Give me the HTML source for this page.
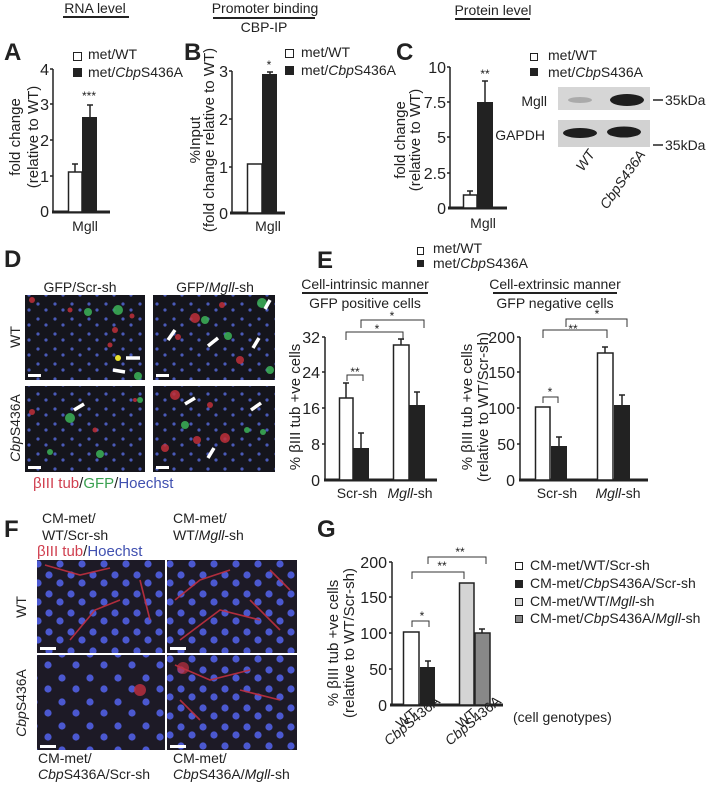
<!DOCTYPE html>
<html><head><meta charset="utf-8"><style>
html,body{margin:0;padding:0;background:#fff}
svg{display:block}
text{font-family:"Liberation Sans",Arial,sans-serif;fill:#222}
.t{font-size:14px}.k{font-size:16px}.p{font-size:24px;font-weight:bold}
.i{font-style:italic}
</style></head><body>
<svg width="707" height="785" viewBox="0 0 707 785" xmlns="http://www.w3.org/2000/svg">
<defs>
<pattern id="nd" width="17" height="15" patternUnits="userSpaceOnUse">
<rect width="17" height="15" fill="#15151c"/>
<circle cx="4" cy="4" r="1.6" fill="#4a5ab8"/><circle cx="12" cy="10" r="1.6" fill="#4a5ab8"/>
</pattern>
<pattern id="nf" width="22" height="19" patternUnits="userSpaceOnUse">
<rect width="22" height="19" fill="#1d1a26"/>
<circle cx="5" cy="5" r="3.6" fill="#4b58d0"/><circle cx="16" cy="13" r="3.6" fill="#4b58d0"/>
</pattern>
<pattern id="ns" width="28" height="24" patternUnits="userSpaceOnUse">
<rect width="28" height="24" fill="#1d1a26"/>
<circle cx="6" cy="6" r="3.6" fill="#4b58d0"/><circle cx="20" cy="17" r="3.6" fill="#4b58d0"/>
</pattern>
</defs>

<!-- top headers -->
<text class="t" x="95" y="13" text-anchor="middle">RNA level</text>
<line x1="63" y1="17" x2="129" y2="17" stroke="#222" stroke-width="2"/>
<text class="t" x="265" y="13" text-anchor="middle">Promoter binding</text>
<line x1="213" y1="18" x2="315" y2="18" stroke="#222" stroke-width="2"/>
<text class="t" x="264" y="32" text-anchor="middle">CBP-IP</text>
<text class="t" x="493" y="15" text-anchor="middle">Protein level</text>
<line x1="455" y1="19" x2="530" y2="19" stroke="#222" stroke-width="2"/>

<!-- Panel A -->
<text class="p" x="4" y="60">A</text>
<rect x="73.5" y="52.5" width="8" height="8" fill="#fff" stroke="#222"/>
<rect x="73" y="68" width="9" height="9" fill="#222"/>
<text class="t" x="88" y="59">met/WT</text>
<text class="t" x="88" y="77">met/<tspan class="i">Cbp</tspan>S436A</text>
<g stroke="#222" stroke-width="1.5">
<line x1="53" y1="69" x2="53" y2="212"/>
<line x1="50" y1="69" x2="53" y2="69"/><line x1="50" y1="104" x2="53" y2="104"/><line x1="50" y1="140" x2="53" y2="140"/><line x1="50" y1="176" x2="53" y2="176"/>
</g>
<line x1="52" y1="212" x2="110" y2="212" stroke="#222" stroke-width="3"/>
<g class="k" text-anchor="end"><text x="49" y="75">4</text><text x="49" y="110">3</text><text x="49" y="146">2</text><text x="49" y="182">1</text><text x="49" y="217">0</text></g>
<g stroke="#222" stroke-width="1.5"><line x1="75" y1="164" x2="75" y2="172"/><line x1="72" y1="164" x2="78" y2="164"/><line x1="90" y1="105" x2="90" y2="117"/><line x1="87" y1="105" x2="93" y2="105"/></g>
<rect x="68.5" y="172" width="13.5" height="40" fill="#fff" stroke="#222" stroke-width="1.5"/>
<rect x="82" y="117" width="15" height="95" fill="#222"/>
<text x="89" y="100" text-anchor="middle" font-size="12" fill="#666">***</text>
<text class="t" x="85" y="231" text-anchor="middle">Mgll</text>
<text font-size="15" transform="translate(20,137) rotate(-90)" text-anchor="middle">fold change</text>
<text font-size="15" transform="translate(38,137) rotate(-90)" text-anchor="middle">(relative to WT)</text>

<!-- Panel B -->
<text class="p" x="184" y="60">B</text>
<rect x="285.5" y="49.5" width="8" height="8" fill="#fff" stroke="#222"/>
<rect x="285" y="66" width="9" height="9" fill="#222"/>
<text class="t" x="301" y="57">met/WT</text>
<text class="t" x="301" y="75">met/<tspan class="i">Cbp</tspan>S436A</text>
<g stroke="#222" stroke-width="1.5">
<line x1="232" y1="71" x2="232" y2="213"/>
<line x1="229" y1="71" x2="232" y2="71"/><line x1="229" y1="119" x2="232" y2="119"/><line x1="229" y1="167" x2="232" y2="167"/>
</g>
<line x1="230" y1="213" x2="285" y2="213" stroke="#222" stroke-width="3"/>
<g class="k" text-anchor="end"><text x="228" y="77">3</text><text x="228" y="125">2</text><text x="228" y="173">1</text><text x="228" y="219">0</text></g>
<g stroke="#222" stroke-width="1.5"><line x1="270" y1="72" x2="270" y2="74"/><line x1="267" y1="72" x2="273" y2="72"/></g>
<rect x="247.5" y="164" width="14.5" height="49" fill="#fff" stroke="#222" stroke-width="1.5"/>
<rect x="262" y="74" width="15" height="139" fill="#222"/>
<text x="269" y="69" text-anchor="middle" font-size="12" fill="#666">*</text>
<text class="t" x="268" y="231" text-anchor="middle">Mgll</text>
<text font-size="15" transform="translate(200,140) rotate(-90)" text-anchor="middle">%Input</text>
<text font-size="15" transform="translate(214,140) rotate(-90)" text-anchor="middle">(fold change relative to WT)</text>

<!-- Panel C -->
<text class="p" x="396" y="60">C</text>
<g stroke="#222" stroke-width="1.5">
<line x1="450" y1="67" x2="450" y2="208"/>
<line x1="447" y1="67" x2="450" y2="67"/><line x1="447" y1="102" x2="450" y2="102"/><line x1="447" y1="137" x2="450" y2="137"/><line x1="447" y1="173" x2="450" y2="173"/>
</g>
<line x1="448" y1="208" x2="507" y2="208" stroke="#222" stroke-width="3"/>
<g class="k" text-anchor="end"><text x="446" y="73">10</text><text x="446" y="108">7.5</text><text x="446" y="143">5</text><text x="446" y="179">2.5</text><text x="446" y="214">0</text></g>
<g stroke="#222" stroke-width="1.5"><line x1="470" y1="191" x2="470" y2="195"/><line x1="467" y1="191" x2="473" y2="191"/><line x1="485" y1="81" x2="485" y2="102"/><line x1="482" y1="81" x2="488" y2="81"/></g>
<rect x="463.5" y="195" width="13.5" height="13" fill="#fff" stroke="#222" stroke-width="1.5"/>
<rect x="477" y="102" width="16" height="106" fill="#222"/>
<text x="485" y="78" text-anchor="middle" font-size="12" fill="#666">**</text>
<text class="t" x="483" y="228" text-anchor="middle">Mgll</text>
<text font-size="15" transform="translate(405,140) rotate(-90)" text-anchor="middle">fold change</text>
<text font-size="15" transform="translate(420,140) rotate(-90)" text-anchor="middle">(relative to WT)</text>
<rect x="530.5" y="53.5" width="7" height="7" fill="#fff" stroke="#222"/>
<rect x="530" y="68" width="8" height="8" fill="#222"/>
<text class="t" x="548" y="60">met/WT</text>
<text class="t" x="548" y="77">met/<tspan class="i">Cbp</tspan>S436A</text>
<!-- blot -->
<rect x="558" y="87" width="92" height="23" fill="#d6d6d6"/>
<rect x="558" y="120" width="92" height="27" fill="#d2d2d2"/>
<ellipse cx="580" cy="100" rx="12" ry="3" fill="#aaa"/>
<ellipse cx="627" cy="100" rx="17" ry="6" fill="#1e1e1e"/>
<ellipse cx="580" cy="133" rx="17" ry="5" fill="#1e1e1e"/>
<ellipse cx="624" cy="132" rx="17" ry="5.5" fill="#1e1e1e"/>
<text class="t" x="547" y="106" text-anchor="end">Mgll</text>
<text class="t" x="545" y="140" text-anchor="end">GAPDH</text>
<line x1="653" y1="100" x2="663" y2="100" stroke="#222" stroke-width="1.5"/>
<text class="t" x="665" y="105">35kDa</text>
<line x1="653" y1="145" x2="663" y2="145" stroke="#222" stroke-width="1.5"/>
<text class="t" x="665" y="150">35kDa</text>
<text class="t i" transform="translate(583,172) rotate(-55)">WT</text>
<text class="t i" transform="translate(607,210) rotate(-55)">CbpS436A</text>

<!-- Panel D -->
<text class="p" x="4" y="267">D</text>
<text class="t" x="80" y="292" text-anchor="middle">GFP/Scr-sh</text>
<text class="t" x="215" y="292" text-anchor="middle">GFP/<tspan class="i">Mgll</tspan>-sh</text>
<rect x="25" y="295" width="120" height="85" fill="url(#nd)"/>
<rect x="153" y="295" width="122" height="85" fill="url(#nd)"/>
<rect x="25" y="386" width="120" height="86" fill="url(#nd)"/>
<rect x="153" y="386" width="122" height="86" fill="url(#nd)"/>
<g fill="#c0303a" opacity="0.85">
<circle cx="32" cy="300" r="3"/><circle cx="70" cy="310" r="2.5"/><circle cx="115" cy="330" r="3"/><circle cx="132" cy="316" r="2.5"/><circle cx="110" cy="345" r="2.5"/>
<circle cx="195" cy="318" r="5"/><circle cx="222" cy="305" r="3"/><circle cx="240" cy="360" r="4"/><circle cx="178" cy="337" r="3"/>
<circle cx="32" cy="412" r="3"/><circle cx="95" cy="430" r="2.5"/><circle cx="135" cy="400" r="2"/>
<circle cx="175" cy="395" r="5"/><circle cx="197" cy="440" r="4"/><circle cx="225" cy="438" r="5"/><circle cx="165" cy="448" r="4"/><circle cx="210" cy="405" r="3"/>
</g>
<g fill="#3aaa55" opacity="0.9">
<circle cx="88" cy="312" r="4"/><circle cx="118" cy="310" r="5"/><circle cx="138" cy="376" r="4"/>
<circle cx="262" cy="303" r="5"/><circle cx="228" cy="336" r="4"/><circle cx="205" cy="320" r="4"/><circle cx="270" cy="370" r="4"/>
<circle cx="70" cy="418" r="5"/><circle cx="100" cy="454" r="4"/><circle cx="140" cy="400" r="3"/><circle cx="50" cy="452" r="3"/>
<circle cx="185" cy="425" r="4"/><circle cx="247" cy="430" r="3"/><circle cx="263" cy="432" r="3"/>
</g>
<circle cx="118" cy="358" r="3" fill="#e8e030"/>
<g stroke="#fff" stroke-width="3.5" fill="none">
<line x1="140" y1="358" x2="126" y2="358"/><line x1="125" y1="372" x2="113" y2="370"/>
<line x1="168" y1="340" x2="175" y2="330"/><line x1="208" y1="346" x2="218" y2="338"/><line x1="253" y1="348" x2="259" y2="338"/><line x1="270" y1="300" x2="265" y2="309"/>
<line x1="74" y1="410" x2="84" y2="404"/><line x1="185" y1="404" x2="195" y2="398"/><line x1="251" y1="410" x2="261" y2="403"/><line x1="208" y1="458" x2="214" y2="448"/>
</g>
<g fill="#fff"><rect x="28" y="374" width="13" height="3"/><rect x="156" y="374" width="13" height="3"/><rect x="28" y="466" width="13" height="3"/><rect x="156" y="466" width="13" height="3"/></g>
<text class="t" transform="translate(20,337) rotate(-90)" text-anchor="middle">WT</text>
<text class="t" transform="translate(20,428) rotate(-90)" text-anchor="middle"><tspan class="i">Cbp</tspan>S436A</text>
<text font-size="15" x="33" y="488"><tspan fill="#d04050">βIII tub</tspan>/<tspan fill="#3aa050">GFP</tspan>/<tspan fill="#4050b0">Hoechst</tspan></text>

<!-- Panel E -->
<text class="p" x="317" y="268">E</text>
<rect x="417.5" y="247.5" width="6" height="7" fill="#fff" stroke="#222"/>
<rect x="417" y="260" width="7" height="7" fill="#222"/>
<text class="t" x="433" y="253">met/WT</text>
<text class="t" x="433" y="268">met/<tspan class="i">Cbp</tspan>S436A</text>
<text class="t" x="365" y="289" text-anchor="middle">Cell-intrinsic manner</text>
<line x1="302" y1="293" x2="428" y2="293" stroke="#222" stroke-width="2"/>
<text class="t" x="365" y="308" text-anchor="middle">GFP positive cells</text>
<g stroke="#222" stroke-width="1.5">
<line x1="325" y1="337" x2="325" y2="480"/>
<line x1="322" y1="337" x2="325" y2="337"/><line x1="322" y1="372" x2="325" y2="372"/><line x1="322" y1="408" x2="325" y2="408"/><line x1="322" y1="444" x2="325" y2="444"/>
</g>
<line x1="324" y1="480" x2="437" y2="480" stroke="#222" stroke-width="3"/>
<g class="k" text-anchor="end"><text x="320" y="343">32</text><text x="320" y="378">24</text><text x="320" y="414">16</text><text x="320" y="450">8</text><text x="320" y="486">0</text></g>
<g stroke="#222" stroke-width="1.5">
<line x1="346" y1="383" x2="346" y2="398"/><line x1="343" y1="383" x2="349" y2="383"/>
<line x1="361" y1="433" x2="361" y2="448"/><line x1="358" y1="433" x2="364" y2="433"/>
<line x1="401" y1="339" x2="401" y2="345"/><line x1="398" y1="339" x2="404" y2="339"/>
<line x1="417" y1="392" x2="417" y2="405"/><line x1="414" y1="392" x2="420" y2="392"/>
</g>
<rect x="339.5" y="398" width="13.5" height="82" fill="#fff" stroke="#222" stroke-width="1.5"/>
<rect x="353" y="448" width="16" height="32" fill="#222"/>
<rect x="393.5" y="345" width="15.5" height="135" fill="#fff" stroke="#222" stroke-width="1.5"/>
<rect x="409" y="405" width="16" height="75" fill="#222"/>
<g stroke="#333" stroke-width="1" fill="none">
<polyline points="347,381 347,375 363,375 363,381"/>
<polyline points="346,340 346,332 403,332 403,340"/>
<polyline points="361,328 361,320 424,320 424,328"/>
</g>
<g font-size="12" fill="#666" text-anchor="middle"><text x="355" y="376">**</text><text x="377" y="333">*</text><text x="392" y="320">*</text></g>
<text class="t" x="357" y="498" text-anchor="middle">Scr-sh</text>
<text class="t" x="410" y="498" text-anchor="middle"><tspan class="i">Mgll</tspan>-sh</text>
<text font-size="15" transform="translate(300,407) rotate(-90)" text-anchor="middle">% βIII tub +ve cells</text>

<text class="t" x="555" y="289" text-anchor="middle">Cell-extrinsic manner</text>
<line x1="493" y1="293" x2="617" y2="293" stroke="#222" stroke-width="2"/>
<text class="t" x="555" y="308" text-anchor="middle">GFP negative cells</text>
<g stroke="#222" stroke-width="1.5">
<line x1="520" y1="337" x2="520" y2="480"/>
<line x1="517" y1="337" x2="520" y2="337"/><line x1="517" y1="372" x2="520" y2="372"/><line x1="517" y1="408" x2="520" y2="408"/><line x1="517" y1="444" x2="520" y2="444"/>
</g>
<line x1="519" y1="480" x2="648" y2="480" stroke="#222" stroke-width="3"/>
<g class="k" text-anchor="end"><text x="515" y="343">200</text><text x="515" y="378">150</text><text x="515" y="414">100</text><text x="515" y="450">50</text><text x="515" y="486">0</text></g>
<g stroke="#222" stroke-width="1.5">
<line x1="559" y1="437" x2="559" y2="446"/><line x1="556" y1="437" x2="562" y2="437"/>
<line x1="605" y1="347" x2="605" y2="353"/><line x1="602" y1="347" x2="608" y2="347"/>
<line x1="622" y1="395" x2="622" y2="405"/><line x1="619" y1="395" x2="625" y2="395"/>
</g>
<rect x="535.5" y="407" width="14.5" height="73" fill="#fff" stroke="#222" stroke-width="1.5"/>
<rect x="551" y="446" width="16" height="34" fill="#222"/>
<rect x="597.5" y="353" width="15.5" height="127" fill="#fff" stroke="#222" stroke-width="1.5"/>
<rect x="614" y="405" width="16" height="75" fill="#222"/>
<g stroke="#333" stroke-width="1" fill="none">
<polyline points="543,403 543,397 558,397 558,403"/>
<polyline points="543,338 543,330 607,330 607,338"/>
<polyline points="566,327 566,319 627,319 627,327"/>
</g>
<g font-size="12" fill="#666" text-anchor="middle"><text x="550" y="396">*</text><text x="573" y="333">**</text><text x="597" y="318">*</text></g>
<text class="t" x="557" y="498" text-anchor="middle">Scr-sh</text>
<text class="t" x="618" y="498" text-anchor="middle"><tspan class="i">Mgll</tspan>-sh</text>
<text font-size="15" transform="translate(472,407) rotate(-90)" text-anchor="middle">% βIII tub +ve cells</text>
<text font-size="15" transform="translate(488,407) rotate(-90)" text-anchor="middle">(relative to WT/Scr-sh)</text>

<!-- Panel F -->
<text class="p" x="4" y="537">F</text>
<text class="t" x="42" y="523">CM-met/</text>
<text class="t" x="42" y="540">WT/Scr-sh</text>
<text class="t" x="173" y="523">CM-met/</text>
<text class="t" x="173" y="540">WT/<tspan class="i">Mgll</tspan>-sh</text>
<text font-size="15" x="37" y="556"><tspan fill="#d04050">βIII tub</tspan>/<tspan fill="#4050b0">Hoechst</tspan></text>
<rect x="37" y="560" width="128" height="93" fill="url(#nf)"/>
<rect x="167" y="560" width="130" height="93" fill="url(#nf)"/>
<rect x="37" y="655" width="128" height="95" fill="url(#ns)"/>
<rect x="167" y="655" width="130" height="95" fill="url(#nf)"/>
<g stroke="#c03040" stroke-width="1.6" fill="none" opacity="0.9">
<path d="M45 565 L80 575 L110 568"/><path d="M120 600 L95 610 L70 640"/><path d="M140 580 L150 620"/>
<path d="M175 600 L200 580 L230 570"/><path d="M250 600 L280 630"/><path d="M180 640 L220 610 L260 620"/><path d="M270 570 L290 590"/>
<path d="M175 665 L210 680 L250 670"/><path d="M180 700 L200 720"/><path d="M240 690 L280 700"/>
</g>
<circle cx="140" cy="690" r="6" fill="#c03040" opacity="0.8"/>
<circle cx="183" cy="668" r="6" fill="#c03040" opacity="0.7"/>
<g fill="#fff"><rect x="40" y="647" width="16" height="3"/><rect x="170" y="647" width="16" height="3"/><rect x="40" y="745" width="16" height="3"/><rect x="170" y="745" width="16" height="3"/></g>
<text class="t" transform="translate(26,607) rotate(-90)" text-anchor="middle">WT</text>
<text class="t" transform="translate(26,703) rotate(-90)" text-anchor="middle"><tspan class="i">Cbp</tspan>S436A</text>
<text class="t" x="38" y="763">CM-met/</text>
<text class="t" x="38" y="779"><tspan class="i">Cbp</tspan>S436A/Scr-sh</text>
<text class="t" x="173" y="763">CM-met/</text>
<text class="t" x="173" y="779"><tspan class="i">Cbp</tspan>S436A/<tspan class="i">Mgll</tspan>-sh</text>

<!-- Panel G -->
<text class="p" x="317" y="537">G</text>
<g stroke="#222" stroke-width="1.5">
<line x1="392" y1="562" x2="392" y2="705"/>
<line x1="389" y1="562" x2="392" y2="562"/><line x1="389" y1="597" x2="392" y2="597"/><line x1="389" y1="633" x2="392" y2="633"/><line x1="389" y1="669" x2="392" y2="669"/>
</g>
<line x1="390" y1="705" x2="503" y2="705" stroke="#222" stroke-width="3"/>
<g class="k" text-anchor="end"><text x="387" y="568">200</text><text x="387" y="603">150</text><text x="387" y="639">100</text><text x="387" y="675">50</text><text x="387" y="711">0</text></g>
<g stroke="#222" stroke-width="1.5">
<line x1="428" y1="661" x2="428" y2="667"/><line x1="425" y1="661" x2="431" y2="661"/>
<line x1="482" y1="629" x2="482" y2="633"/><line x1="479" y1="629" x2="485" y2="629"/>
</g>
<rect x="403.5" y="632" width="15.5" height="73" fill="#fff" stroke="#222" stroke-width="1.5"/>
<rect x="420" y="667" width="15" height="38" fill="#222"/>
<rect x="459.5" y="583" width="14.5" height="122" fill="#d4d4d4" stroke="#222" stroke-width="1.5"/>
<rect x="475" y="633" width="15" height="72" fill="#888" stroke="#222" stroke-width="1.5"/>
<g stroke="#333" stroke-width="1" fill="none">
<polyline points="412,627 412,621 429,621 429,627"/>
<polyline points="412,579 412,572 464,572 464,579"/>
<polyline points="428,564 428,557 486,557 486,564"/>
</g>
<g font-size="12" fill="#666" text-anchor="middle"><text x="422" y="620">*</text><text x="442" y="570">**</text><text x="460" y="556">**</text></g>
<text font-size="15" transform="translate(338,643) rotate(-90)" text-anchor="middle">% βIII tub +ve cells</text>
<text font-size="15" transform="translate(354,643) rotate(-90)" text-anchor="middle">(relative to WT/Scr-sh)</text>
<text class="t" transform="translate(401,729) rotate(-40)">WT</text>
<text class="t" transform="translate(389,746) rotate(-40)"><tspan class="i">Cbp</tspan>S436A</text>
<text class="t" transform="translate(461,729) rotate(-40)">WT</text>
<text class="t" transform="translate(450,746) rotate(-40)"><tspan class="i">Cbp</tspan>S436A</text>
<text class="t" x="513" y="722">(cell genotypes)</text>
<rect x="515.5" y="562.5" width="7" height="7" fill="#fff" stroke="#222"/>
<rect x="515" y="580" width="8" height="8" fill="#222"/>
<rect x="515.5" y="598.5" width="7" height="7" fill="#d4d4d4" stroke="#222"/>
<rect x="515.5" y="615.5" width="7" height="7" fill="#888" stroke="#222"/>
<text class="t" x="530" y="570">CM-met/WT/Scr-sh</text>
<text class="t" x="530" y="588">CM-met/<tspan class="i">Cbp</tspan>S436A/Scr-sh</text>
<text class="t" x="530" y="606">CM-met/WT/<tspan class="i">Mgll</tspan>-sh</text>
<text class="t" x="530" y="623">CM-met/<tspan class="i">Cbp</tspan>S436A/<tspan class="i">Mgll</tspan>-sh</text>
</svg>
</body></html>
